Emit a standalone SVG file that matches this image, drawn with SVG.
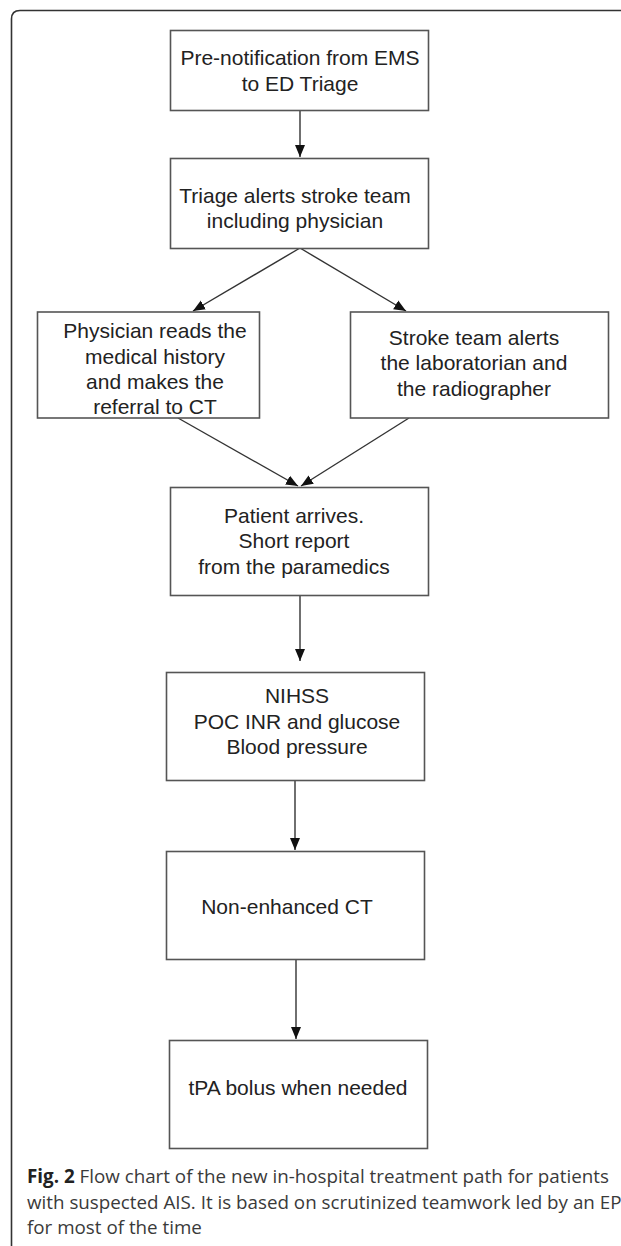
<svg xmlns="http://www.w3.org/2000/svg" width="621" height="1246" viewBox="0 0 621 1246">
<style>
.box{fill:#fff;stroke:#555;stroke-width:1.6}
.t{font-family:"Liberation Sans",Arial,sans-serif;font-size:21px;fill:#222;text-anchor:middle}
.c{stroke:#333;stroke-width:1.4;fill:none;marker-end:url(#ah)}
.cap{font-family:"Open Sans",sans-serif;font-size:18.8px;fill:#3a3a3a}
</style>
<defs>
<marker id="ah" markerWidth="14" markerHeight="12" refX="12" refY="6" orient="auto" markerUnits="userSpaceOnUse">
<path d="M0,1 L12,6 L0,11 Z" fill="#111"/>
</marker>
</defs>
<rect width="621" height="1246" fill="#fff"/>
<path d="M11.5,1246 V19 Q11.5,10.5 20,10.5 H621" fill="none" stroke="#333" stroke-width="1.6"/>
<g id="connectors">
<line class="c" x1="300" y1="111" x2="300" y2="157"/>
<line class="c" x1="300" y1="248" x2="193" y2="311"/>
<line class="c" x1="300" y1="248" x2="406" y2="311"/>
<line class="c" x1="178" y1="418" x2="298" y2="486"/>
<line class="c" x1="409" y1="418" x2="301" y2="486"/>
<line class="c" x1="300" y1="595" x2="300" y2="661"/>
<line class="c" x1="295" y1="780" x2="295" y2="850"/>
<line class="c" x1="296" y1="959" x2="296" y2="1039"/>
</g>
<g id="n1"><rect class="box" x="170.5" y="30.5" width="258" height="80"/>
<text class="t" x="300" y="65">Pre-notification from EMS</text>
<text class="t" x="300" y="91">to ED Triage</text></g>
<g id="n2"><rect class="box" x="170.5" y="158.5" width="258" height="90"/>
<text class="t" x="295" y="203">Triage alerts stroke team</text>
<text class="t" x="295" y="228">including physician</text></g>
<g id="n3"><rect class="box" x="37.5" y="312" width="222" height="106"/>
<text class="t" x="155" y="338">Physician reads the</text>
<text class="t" x="155" y="364">medical history</text>
<text class="t" x="155" y="389">and makes the</text>
<text class="t" x="155" y="414">referral to CT</text></g>
<g id="n4"><rect class="box" x="350.5" y="312" width="258" height="106"/>
<text class="t" x="474" y="345">Stroke team alerts</text>
<text class="t" x="474" y="370">the laboratorian and</text>
<text class="t" x="474" y="396">the radiographer</text></g>
<g id="n5"><rect class="box" x="170.5" y="487.5" width="258" height="108"/>
<text class="t" x="294" y="523">Patient arrives.</text>
<text class="t" x="294" y="548">Short report</text>
<text class="t" x="294" y="574">from the paramedics</text></g>
<g id="n6"><rect class="box" x="166.5" y="672.5" width="258" height="108"/>
<text class="t" x="297" y="703">NIHSS</text>
<text class="t" x="297" y="729">POC INR and glucose</text>
<text class="t" x="297" y="754">Blood pressure</text></g>
<g id="n7"><rect class="box" x="166.5" y="851.5" width="258" height="108"/>
<text class="t" x="287" y="914">Non-enhanced CT</text></g>
<g id="n8"><rect class="box" x="169.5" y="1040.5" width="258" height="108"/>
<text class="t" x="298" y="1095">tPA bolus when needed</text></g>
<g id="caption">
<text class="cap" x="27" y="1183"><tspan font-weight="bold" fill="#222">Fig. 2</tspan> Flow chart of the new in-hospital treatment path for patients</text>
<text class="cap" x="27" y="1209">with suspected AIS. It is based on scrutinized teamwork led by an EP</text>
<text class="cap" x="27" y="1234">for most of the time</text>
</g>
</svg>
